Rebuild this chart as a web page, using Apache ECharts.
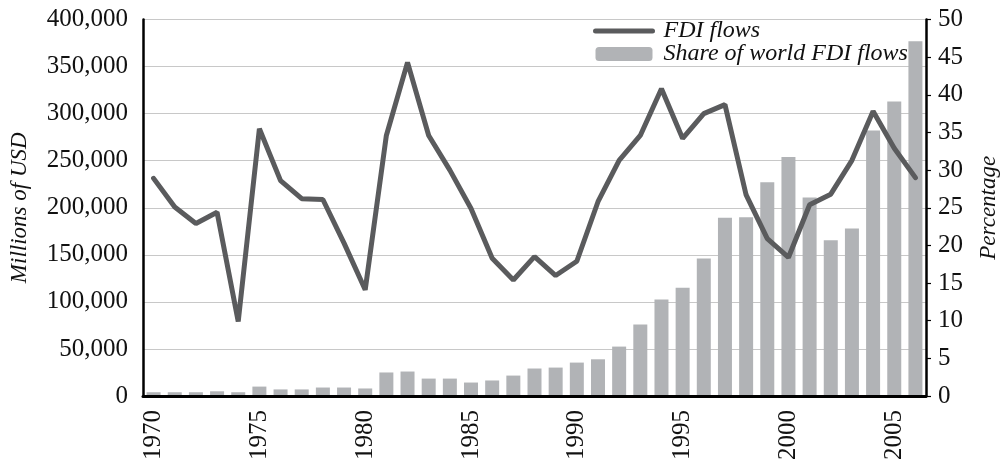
<!DOCTYPE html>
<html>
<head>
<meta charset="utf-8">
<script src="https://cdn.jsdelivr.net/npm/echarts@6/dist/echarts.min.js"></script>
<style>
  html, body { margin: 0; padding: 0; background: #fff; }
  #chart { width: 1008px; height: 469px; }
</style>
</head>
<body>
<div id="chart"></div>
<script>
const years = [
  '1970','1971','1972','1973','1974','1975','1976','1977','1978','1979',
  '1980','1981','1982','1983','1984','1985','1986','1987','1988','1989',
  '1990','1991','1992','1993','1994','1995','1996','1997','1998','1999',
  '2000','2001','2002','2003','2004','2005','2006'
]
// bars, millions of USD (left axis)
const shareBars = [
  4000, 4000, 4000, 5000, 4000, 10000, 7000, 7000, 9000, 9000,
  8000, 25000, 26000, 18500, 18500, 14300, 16500, 21700, 29200, 30200,
  35500, 39000, 52500, 76000, 102400, 115100, 146000, 189500, 190000, 227000,
  254000, 211000, 165500, 178000, 282000, 313000, 377000
]
// line, percentage (right axis)
const flowLine = [
  28.9, 25.1, 22.9, 24.4, 9.9, 35.5, 28.6, 26.2, 26.1, 20.3,
  14.1, 34.6, 44.3, 34.6, 30.0, 24.9, 18.3, 15.4, 18.5, 16.0,
  17.9, 25.8, 31.3, 34.6, 40.8, 34.2, 37.5, 38.7, 26.7, 20.9,
  18.4, 25.4, 26.8, 31.3, 37.8, 32.9, 29.0
]
const leftTicks = { min: 0, max: 400000, interval: 50000 }
const rightTicks = { min: 0, max: 50, interval: 5 }

const FONT = '"Liberation Serif", "DejaVu Serif", serif'
const BAR_COLOR = '#b1b3b6'
const LINE_COLOR = '#5a5b5d'

const chart = echarts.init(document.getElementById('chart'))
chart.setOption({
  animation: false,
  backgroundColor: '#fff',
  textStyle: { fontFamily: FONT, color: '#111' },
  grid: { left: 143, right: 75, top: 19.5, bottom: 73 },
  legend: {
    orient: 'vertical', left: 588, top: 14,
    itemWidth: 57, itemHeight: 14, itemGap: -1,
    data: [
      { name: 'FDI flows', itemStyle: { opacity: 0 }, lineStyle: { width: 5, cap: 'round', color: LINE_COLOR } },
      { name: 'Share of world FDI flows' },
    ],
    textStyle: { fontFamily: FONT, fontStyle: 'italic', fontSize: 24, color: '#111', padding: [0, 0, 0, 6] },
  },
  xAxis: [
    {
      type: 'category', data: years, position: 'bottom',
      axisLine: { lineStyle: { color: '#000', width: 3 } },
      axisTick: { interval: 4, length: 12, lineStyle: { color: '#000', width: 3 }, alignWithLabel: true },
      axisLabel: { interval: 4, rotate: 90, margin: 14, fontSize: 25, fontFamily: FONT, color: '#111' },
      splitLine: { show: false },
      z: 5,
    },
    {
      type: 'category', data: years, position: 'bottom',
      axisLine: { show: false },
      axisTick: { interval: 0, length: 12, lineStyle: { color: '#000', width: 1.5 }, alignWithLabel: true },
      axisLabel: { show: false },
      splitLine: { show: false },
    },
  ],
  yAxis: [
    {
      type: 'value', position: 'left', ...leftTicks,
      name: 'Millions of USD', nameLocation: 'middle', nameGap: 112, nameRotate: 90,
      nameTextStyle: { fontFamily: FONT, fontStyle: 'italic', fontSize: 23, color: '#111' },
      axisLine: { show: true, lineStyle: { color: '#000', width: 2.5 } },
      axisTick: { show: false },
      axisLabel: { margin: 15, fontSize: 25, fontFamily: FONT, color: '#111', formatter: (v) => v.toLocaleString('en-US') },
      splitLine: { lineStyle: { color: '#c8c8c8', width: 1.2 } },
    },
    {
      type: 'value', position: 'right', ...rightTicks,
      name: 'Percentage', nameLocation: 'middle', nameGap: 51, nameRotate: 90,
      nameTextStyle: { fontFamily: FONT, fontStyle: 'italic', fontSize: 23, color: '#111' },
      axisLine: { show: true, lineStyle: { color: '#000', width: 2.5 } },
      axisTick: { show: true, length: 5, lineStyle: { color: '#000', width: 1.2 } },
      axisLabel: { margin: 12, fontSize: 25, fontFamily: FONT, color: '#111' },
      splitLine: { show: false },
    },
  ],
  series: [
    {
      name: 'Share of world FDI flows', type: 'bar', data: shareBars,
      xAxisIndex: 0, yAxisIndex: 0, barWidth: 14,
      itemStyle: { color: BAR_COLOR },
    },
    {
      name: 'FDI flows', type: 'line', data: flowLine,
      xAxisIndex: 0, yAxisIndex: 1,
      symbol: 'none', showSymbol: false,
      lineStyle: { color: LINE_COLOR, width: 5, cap: 'round' },
      itemStyle: { color: LINE_COLOR },
      z: 3,
    },
  ],
})
</script>
</body>
</html>
